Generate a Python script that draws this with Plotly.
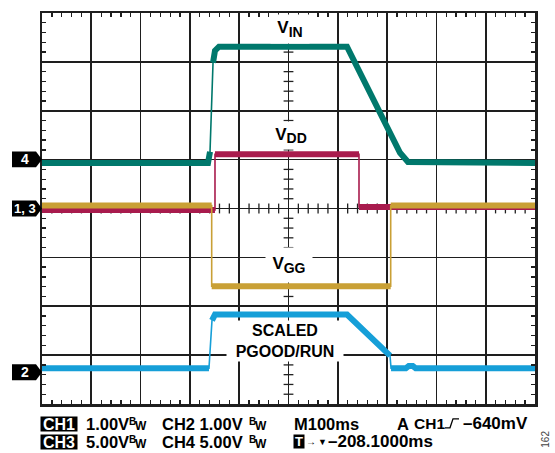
import numpy as np
import plotly.graph_objects as go

# ---------------- data (time in ms, 100 ms/div; amplitude in screen divisions, centre = 0)
ch4_t = [0, 336.7, 340.8, 344.8, 346.9, 350.9, 359.0, 618.7, 726.2, 734.3, 742.4, 1000]
ch4_v = [0.93, 0.93, 1.16, 2.17, 2.98, 3.23, 3.31, 3.31, 1.14, 1.02, 0.95, 0.93]   # V_IN

ch1_t = [0, 350.9, 350.9, 643.0, 643.0, 1000]
ch1_v = [-0.03, -0.03, 1.11, 1.11, 0.03, 0.03]                                      # V_DD

ch3_t = [0, 344.2, 344.2, 707.3, 707.3, 1000]
ch3_v = [0.06, 0.06, -1.59, -1.59, 0.06, 0.06]                                      # V_GG

ch2_t = [0, 338.7, 344.8, 350.9, 618.7, 705.9, 708.0, 738.0, 744.0, 752.0, 758.0, 1000]
ch2_v = [-3.27, -3.27, -2.29, -2.17, -2.17, -3.01, -3.27, -3.27, -3.22, -3.22, -3.27, -3.27]  # PGOOD/RUN

colors = {"ch4": "#00786c", "ch1": "#a81b4d", "ch3": "#c9a035", "ch2": "#169fd8"}

# ---------------- geometry
W, H = 555, 453
L, R, T, B = 42, 535, 10, 404
PX_PER_MS = (R - L) / 1000.0
PX_PER_DIV = (B - T) / 8.0


def fx(px):
    return (px - L) / (R - L)


def fy(py):
    return (B - py) / (B - T)


def split_thick(t, v, thr=8.0):
    xs, ys = [t[0]], [v[0]]
    for i in range(1, len(t)):
        dxp = abs(t[i] - t[i - 1]) * PX_PER_MS
        dyp = abs(v[i] - v[i - 1]) * PX_PER_DIV
        if dyp > thr * max(dxp, 1e-9):
            xs += [None, t[i]]
            ys += [None, v[i]]
        else:
            xs.append(t[i])
            ys.append(v[i])
    return xs, ys


fig = go.Figure()

# centre cross-hair minor ticks
ty = [v for v in np.round(np.arange(-4, 4.001, 0.2), 2) if abs(v - round(v)) > 1e-6]
tx = [v for v in np.arange(0, 1000.1, 20) if v % 100 != 0]
fig.add_trace(go.Scatter(x=[500] * len(ty), y=ty, mode="markers", hoverinfo="skip",
                         marker=dict(symbol="line-ew", size=7, line=dict(width=1.3, color="#222"))))
fig.add_trace(go.Scatter(x=tx, y=[0] * len(tx), mode="markers", hoverinfo="skip",
                         marker=dict(symbol="line-ns", size=7, line=dict(width=1.3, color="#222"))))

for key, t, v in [("ch4", ch4_t, ch4_v), ("ch1", ch1_t, ch1_v), ("ch3", ch3_t, ch3_v), ("ch2", ch2_t, ch2_v)]:
    c = colors[key]
    fig.add_trace(go.Scatter(x=t, y=v, mode="lines", line=dict(color=c, width=1.6), hoverinfo="skip"))
    xs, ys = split_thick(t, v)
    fig.add_trace(go.Scatter(x=xs, y=ys, mode="lines", line=dict(color=c, width=6), hoverinfo="skip",
                             connectgaps=False))

FONT = "Liberation Sans, Arial, sans-serif"
ann = []
shapes = []


def label(text, cx, cy, w, h, size=16):
    ann.append(dict(text=text, x=fx(cx), y=fy(cy), xref="paper", yref="paper", showarrow=False,
                    xanchor="center", yanchor="middle", width=w, height=h, bgcolor="white",
                    borderpad=0, font=dict(family=FONT, size=size, color="black", weight="bold")))


label("V<sub><span style='font-size:14px'>IN</span></sub>", 290, 26, 38, 28, 17)
label("V<sub><span style='font-size:14px'>DD</span></sub>", 291, 133, 40, 27, 17)
label("V<sub><span style='font-size:14px'>GG</span></sub>", 289, 264, 46, 34, 17)
label("SCALED<br>PGOOD/RUN", 285, 341, 116, 40, 16)


def txt(text, px, py, size=16.5, color="black", anchor="left", **kw):
    d = dict(text=text, x=fx(px), y=fy(py), xref="paper", yref="paper", showarrow=False,
             xanchor=anchor, yanchor="middle",
             font=dict(family=FONT, size=size, color=color, weight="bold"))
    d.update(kw)
    ann.append(d)


def boxed(text, px, py, w, h, size=16):
    ann.append(dict(text=text, x=fx(px), y=fy(py), xref="paper", yref="paper", showarrow=False,
                    xanchor="left", yanchor="middle", width=w, height=h, bgcolor="black", borderpad=0,
                    font=dict(family=FONT, size=size, color="white", weight="bold")))


# channel ground markers
for name, yc, fs in [("4", 157.5, 14), ("1, 3", 207, 13), ("2", 372, 14)]:
    shapes.append(dict(type="path", xref="paper", yref="paper", fillcolor="black", line=dict(width=0),
                       path=f"M {fx(12)},{fy(yc-8)} L {fx(36)},{fy(yc-8)} L {fx(42)},{fy(yc)} "
                            f"L {fx(36)},{fy(yc+8)} L {fx(12)},{fy(yc+8)} Z"))
    txt(name, 25, yc, size=fs, color="white", anchor="center")

# bottom readout
r1, r2 = 424, 442
boxed("CH1", 40, r1, 36, 14)
txt("1.00V", 84, r1)
txt("B", 127, r1 - 2.5, size=10)
txt("W", 132.5, r1 + 2.5, size=12)
txt("CH2 1.00V", 160, r1)
txt("B", 247, r1 - 2.5, size=10)
txt("W", 252.5, r1 + 2.5, size=12)
txt("M100ms", 292, r1)
txt("A", 395, r1)
txt("CH1", 412, r1, size=15.5)
txt("–640mV", 461, r1, size=17)
shapes.append(dict(type="path", xref="paper", yref="paper", line=dict(color="black", width=1.3),
                   path=f"M {fx(445)},{fy(r1+4)} L {fx(450)},{fy(r1+4)} L {fx(453)},{fy(r1-5)} L {fx(459)},{fy(r1-5)}"))

boxed("CH3", 40, r2, 36, 14)
txt("5.00V", 84, r2)
txt("B", 127, r2 - 2.5, size=10)
txt("W", 132.5, r2 + 2.5, size=12)
txt("CH4 5.00V", 160, r2)
txt("B", 247, r2 - 2.5, size=10)
txt("W", 252.5, r2 + 2.5, size=12)
boxed("T", 293, r2, 10, 13, size=13)
txt("→", 304, r2, size=10)
txt("▼", 316, r2, size=9)
txt("–208.1000ms", 326, r2, size=17)
txt("162", 546, 440, size=10, color="#444", anchor="center", textangle=-90,
    font=dict(family=FONT, size=10, color="#444", weight="normal"))

axis_common = dict(showgrid=True, gridcolor="#1e1e1e", gridwidth=1.7, showline=True, linecolor="#1e1e1e",
                   linewidth=2.5, mirror="allticks", zeroline=False, showticklabels=False, ticks="",
                   fixedrange=True)
fig.update_layout(
    width=W, height=H, margin=dict(l=L, r=W - R, t=T, b=H - B, pad=0),
    paper_bgcolor="white", plot_bgcolor="white", showlegend=False,
    xaxis=dict(range=[0, 1000], dtick=100, tick0=0,
               minor=dict(dtick=20, tick0=0, ticks="inside", ticklen=4, tickwidth=1.3, tickcolor="#1e1e1e",
                          showgrid=False), **axis_common),
    yaxis=dict(range=[-4, 4], dtick=1, tick0=0,
               minor=dict(dtick=0.2, tick0=0, ticks="inside", ticklen=4, tickwidth=1.3, tickcolor="#1e1e1e",
                          showgrid=False), **axis_common),
    annotations=ann, shapes=shapes,
)

fig.write_html("out.html", config={"staticPlot": True},
               post_script="document.body.style.margin='0';document.body.style.overflow='hidden';")
